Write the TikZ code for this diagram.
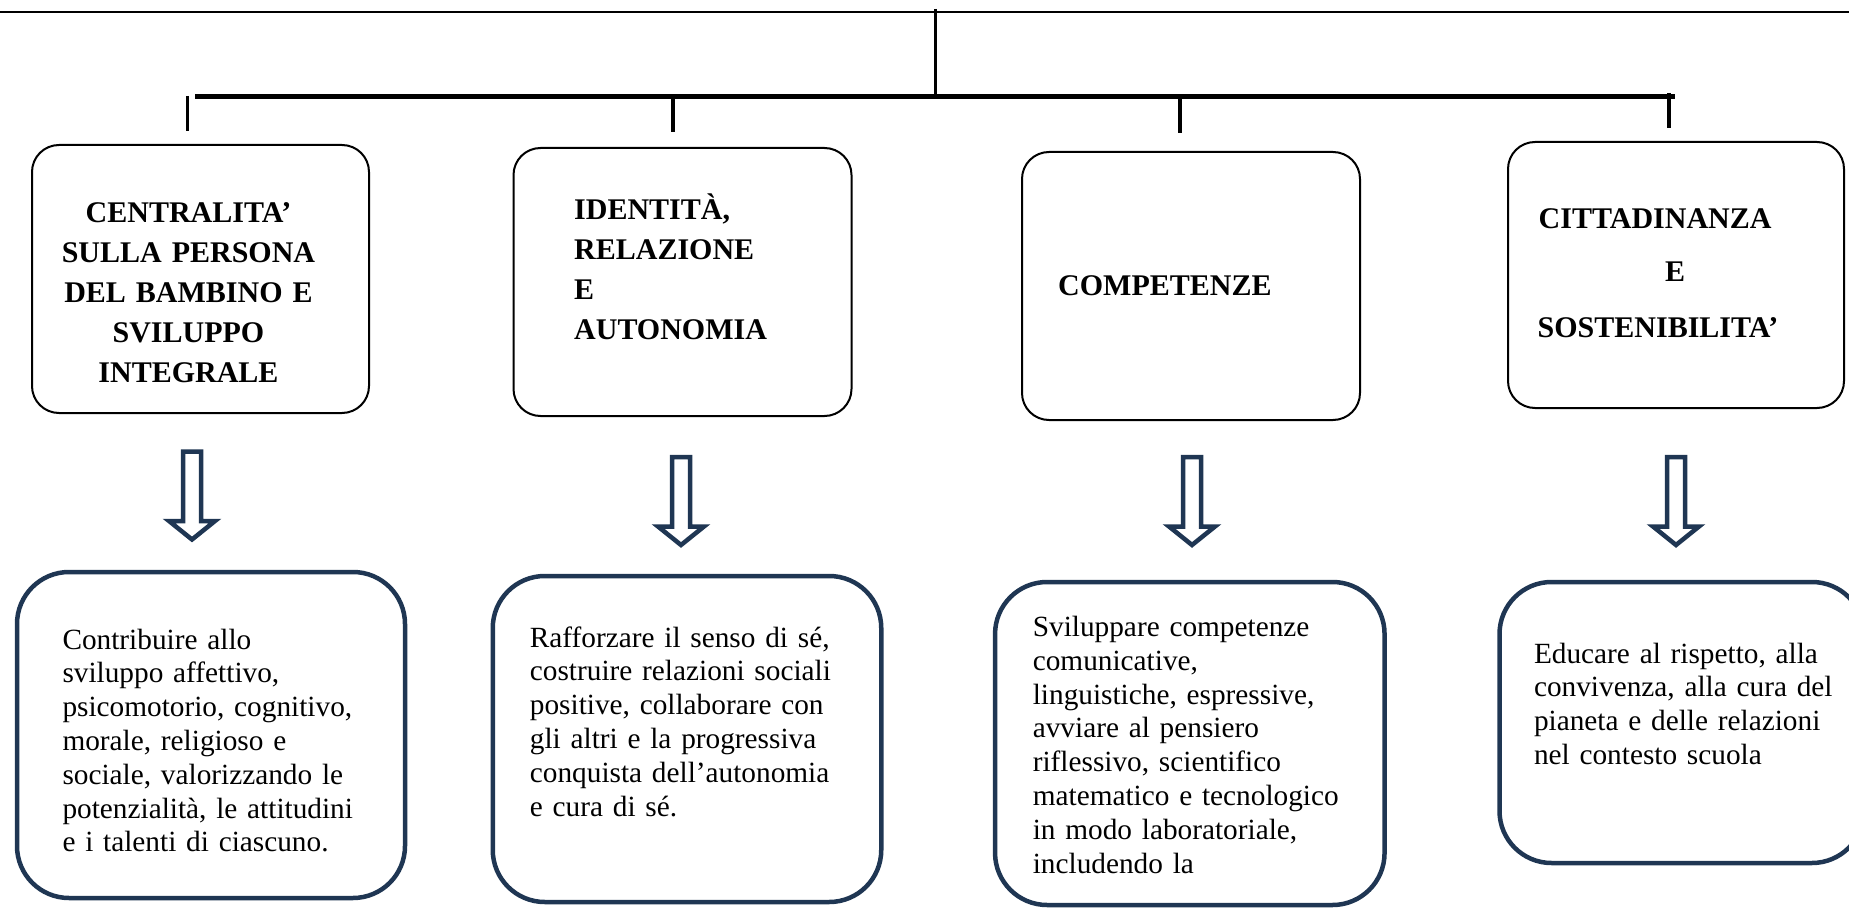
\documentclass[tikz,border=0pt]{standalone}
\usepackage{fontspec}
\setmainfont{Liberation Serif}
\definecolor{navy}{HTML}{1F3653}
\begin{document}
\begin{tikzpicture}[x=1pt,y=-1pt,
  topbox/.style={draw=black, line width=2pt, rounded corners=27pt, inner sep=0pt},
  botbox/.style={draw=navy, line width=4.5pt, rounded corners=52pt, inner sep=0pt},
  head/.style={font=\fontsize{30}{40}\selectfont\bfseries, inner sep=0pt},
  body/.style={font=\fontsize{29.3}{33.8}\selectfont, inner sep=0pt, align=left, text width=360pt, anchor=base west},
  thinrule/.style={draw=black, line width=2pt},
  midrule/.style={draw=black, line width=3pt},
  tickrule/.style={draw=black, line width=3.5pt},
  barrule/.style={draw=black, line width=4.5pt},
  pics/downarrow/.style={code={
    \draw[navy, line width=4.5pt, fill=white, miter limit=10]
      (-9,0) -- (-9,69.5) -- (-23,69.5) -- (0,88) -- (23,69.5) -- (9,69.5) -- (9,0) -- cycle;}}
]
\path[use as bounding box] (0,0) rectangle (1849,909);
\clip (0,0) rectangle (1849,909);

% top rules
\coordinate (tl) at (0,11.7);
\coordinate (tr) at (1849,11.7);
\coordinate (vtop) at (935,9);
\coordinate (vbot) at (935,97);
\coordinate (barl) at (195,96.7);
\coordinate (barr) at (1675,96.7);
\draw[thinrule] (tl) -- (tr);
\draw[midrule] (vtop) -- (vbot);
\draw[barrule] (barl) -- (barr);

% ticks
\coordinate (k1a) at (187.5,96);  \coordinate (k1b) at (187.5,131);
\coordinate (k2a) at (673,98);    \coordinate (k2b) at (673,132);
\coordinate (k3a) at (1180,99);   \coordinate (k3b) at (1180,133);
\coordinate (k4a) at (1669,93);   \coordinate (k4b) at (1669,128);
\draw[tickrule] (k1a) -- (k1b);
\draw[tickrule] (k2a) -- (k2b);
\draw[tickrule] (k3a) -- (k3b);
\draw[tickrule] (k4a) -- (k4b);

% top boxes
\node[topbox, minimum width=337pt, minimum height=268pt] (b1) at (200.5,279) {};
\node[topbox, minimum width=338pt, minimum height=268pt] (b2) at (682.5,282) {};
\node[topbox, minimum width=338pt, minimum height=268pt] (b3) at (1191,286) {};
\node[topbox, minimum width=336pt, minimum height=266pt] (b4) at (1676,275) {};

\node[head, text width=320pt, align=center, anchor=base] (t1) at (188.5,223)
  {CENTRALITA’\\SULLA PERSONA\\DEL BAMBINO E\\SVILUPPO\\INTEGRALE};
\node[head, text width=300pt, align=left, anchor=base west] (t2) at (574,220)
  {IDENTITÀ,\\RELAZIONE\\E\\AUTONOMIA};
\node[head, anchor=base west] (t3) at (1058,295) {COMPETENZE};
\node[head, anchor=base west] (t4a) at (1538.5,229) {CITTADINANZA};
\node[head, anchor=base west] (t4b) at (1665,282) {E};
\node[head, anchor=base west] (t4c) at (1537.5,337) {SOSTENIBILITA’};

% arrows
\pic at (192,451.5) {downarrow};
\pic at (681,457) {downarrow};
\pic at (1192,457) {downarrow};
\pic at (1676,457) {downarrow};

% bottom boxes
\node[botbox, minimum width=388pt, minimum height=326pt] (c1) at (211,735) {};
\node[botbox, minimum width=388.5pt, minimum height=326pt] (c2) at (687,739) {};
\node[botbox, minimum width=389.5pt, minimum height=323pt] (c3) at (1189.8,743.5) {};
\node[botbox, minimum width=364.5pt, minimum height=281pt] (c4) at (1681.75,722.5) {};

\node[body] (d1) at (62.3,649)
  {Contribuire allo\\sviluppo affettivo,\\psicomotorio, cognitivo,\\morale, religioso e\\sociale, valorizzando le\\potenzialità, le attitudini\\e i talenti di ciascuno.};
\node[body] (d2) at (529.7,647)
  {Rafforzare il senso di sé,\\costruire relazioni sociali\\positive, collaborare con\\gli altri e la progressiva\\conquista dell’autonomia\\e cura di sé.};
\node[body] (d3) at (1032.6,636.5)
  {Sviluppare competenze\\comunicative,\\linguistiche, espressive,\\avviare al pensiero\\riflessivo, scientifico\\matematico e tecnologico\\in modo laboratoriale,\\includendo la};
\node[body] (d4) at (1533.8,663)
  {Educare al rispetto, alla\\convivenza, alla cura del\\pianeta e delle relazioni\\nel contesto scuola};
\end{tikzpicture}
\end{document}
